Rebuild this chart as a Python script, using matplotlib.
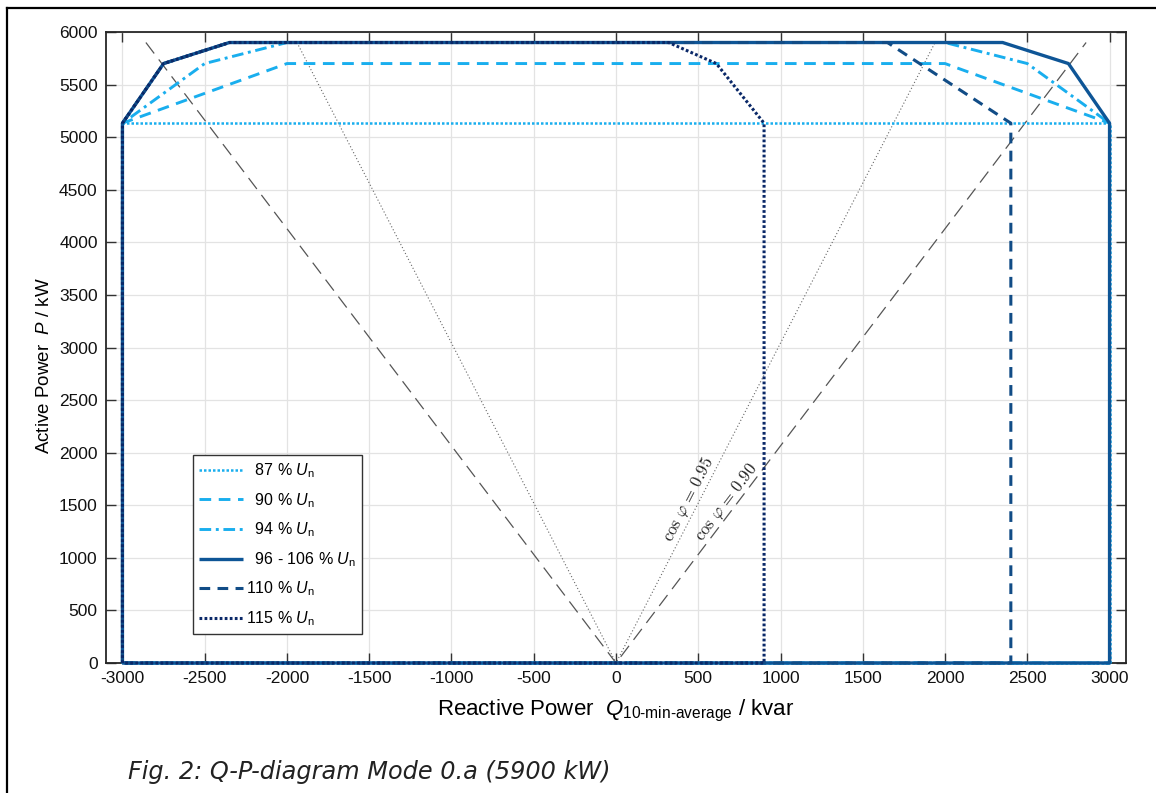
import matplotlib
matplotlib.use('Agg')
import matplotlib.pyplot as plt
from matplotlib.lines import Line2D
import math

plt.rcParams['font.family'] = ['Liberation Sans', 'DejaVu Sans']
plt.rcParams['mathtext.fontset'] = 'custom'
plt.rcParams['mathtext.rm'] = 'Liberation Sans'
plt.rcParams['mathtext.it'] = 'Liberation Sans:italic'
plt.rcParams['mathtext.bf'] = 'Liberation Sans:bold'
plt.rcParams['axes.unicode_minus'] = False

# ---------------- data ----------------
labels = ['  87 % $U_\\mathrm{n}$', '  90 % $U_\\mathrm{n}$', '  94 % $U_\\mathrm{n}$',
          '  96 - 106 % $U_\\mathrm{n}$', '110 % $U_\\mathrm{n}$', '115 % $U_\\mathrm{n}$']

q_87 = [-3000, -3000, 3000, 3000, -3000]
p_87 = [0, 5133, 5133, 0, 0]

q_90 = [-3000, -3000, -2000, 2000, 3000, 3000, -3000]
p_90 = [0, 5133, 5700, 5700, 5133, 0, 0]

q_94 = [-3000, -3000, -2500, -2000, 2000, 2500, 3000, 3000, -3000]
p_94 = [0, 5133, 5700, 5900, 5900, 5700, 5133, 0, 0]

q_96 = [-3000, -3000, -2750, -2350, 2350, 2750, 3000, 3000, -3000]
p_96 = [0, 5133, 5700, 5900, 5900, 5700, 5133, 0, 0]

q_110 = [-3000, -3000, -2750, -2350, 1650, 2400, 2400, -3000]
p_110 = [0, 5133, 5700, 5900, 5900, 5133, 0, 0]

q_115 = [-3000, -3000, -2750, -2350, 320, 610, 900, 900, -3000]
p_115 = [0, 5133, 5700, 5900, 5900, 5700, 5133, 0, 0]

cos_phi = [0.95, 0.90]
p_line_top = 5900

x_ticks = list(range(-3000, 3001, 500))
y_ticks = list(range(0, 6001, 500))

# ---------------- figure ----------------
W, H = 1156, 793
fig = plt.figure(figsize=(W / 100, H / 100), dpi=100)
ax = fig.add_axes([106 / W, 1 - 663 / H, (1126 - 106) / W, (663 - 32) / H])

ax.set_xlim(-3100, 3100)
ax.set_ylim(0, 6000)
ax.set_xticks(x_ticks)
ax.set_yticks(y_ticks)
ax.grid(True, color='#e3e3e3', linewidth=0.9)
ax.set_axisbelow(True)
ax.tick_params(direction='in', top=True, right=True, length=7, width=1.0,
               color='#333333', labelsize=12.5, labelcolor='#111111', pad=6)
for s in ax.spines.values():
    s.set_color('#262626')
    s.set_linewidth(1.3)

# cos phi reference lines
tan95 = math.tan(math.acos(cos_phi[0]))
tan90 = math.tan(math.acos(cos_phi[1]))
ax.plot([-p_line_top * tan95, 0, p_line_top * tan95], [p_line_top, 0, p_line_top],
        color='#666666', lw=0.8, linestyle=(0, (1, 2)), zorder=2)
ax.plot([-p_line_top * tan90, 0, p_line_top * tan90], [p_line_top, 0, p_line_top],
        color='#555555', lw=0.9, linestyle=(0, (11, 6)), zorder=2)

light = '#19AEEE'
c96 = '#0E5596'
c110 = '#114C86'
c115 = '#0A2868'

kw = dict(clip_on=False, solid_capstyle='butt', dash_capstyle='butt')
h87, = ax.plot(q_87, p_87, color=light, lw=1.8, linestyle=(0, (1, 0.8)), zorder=3, **kw)
h90, = ax.plot(q_90, p_90, color=light, lw=2.1, linestyle=(0, (4, 2.6)), zorder=3, **kw)
h94, = ax.plot(q_94, p_94, color=light, lw=2.1, linestyle=(0, (4, 1.6, 1, 1.6)), zorder=3, **kw)
h96, = ax.plot(q_96, p_96, color=c96, lw=2.4, linestyle='-', zorder=4, **kw)
h110, = ax.plot(q_110, p_110, color=c110, lw=2.2, linestyle=(0, (3.5, 2.4)), zorder=5, **kw)
h115, = ax.plot(q_115, p_115, color=c115, lw=2.2, linestyle=(0, (0.9, 0.75)), zorder=6, **kw)

# cos phi labels
ax.text(438, 1560, r'$\cos\,\varphi\, =\, 0.95$', rotation=62.8, rotation_mode='anchor',
        ha='center', va='center', fontsize=12, color='#222222', math_fontfamily='cm',
        zorder=7)
ax.text(672, 1525, r'$\cos\,\varphi\, =\, 0.90$', rotation=52.9, rotation_mode='anchor',
        ha='center', va='center', fontsize=12, color='#222222', math_fontfamily='cm',
        zorder=7)

leg = ax.legend([h87, h90, h94, h96, h110, h115], labels,
                loc='lower left', bbox_to_anchor=((193 - 106) / 1020, (663 - 634) / 631),
                borderaxespad=0, fontsize=11.5, handlelength=2.75, handletextpad=0.2,
                labelspacing=0.68, borderpad=0.38, fancybox=False, framealpha=1,
                edgecolor='#333333')
leg.get_frame().set_linewidth(1.0)
leg.set_zorder(10)

ax.set_xlabel('Reactive Power  $Q_{\\mathrm{10\\text{-}min\\text{-}average}}$ / kvar',
              fontsize=16)
ax.xaxis.set_label_coords(0.5, (663 - 698) / 631)
ax.set_ylabel('Active Power  $P$ / kW', fontsize=13.5)
ax.yaxis.set_label_coords((53 - 106) / 1020, (663 - 366) / 631)

# page frame and caption
fig.add_artist(Line2D([7 / W, 7 / W], [0, 1 - 8 / H], color='black', lw=1.6))
fig.add_artist(Line2D([7 / W, 1], [1 - 8 / H, 1 - 8 / H], color='black', lw=1.6))
fig.text(128 / W, 1 - 772 / H, 'Fig. 2: Q-P-diagram Mode 0.a (5900 kW)',
         fontsize=17.3, style='italic', family='DejaVu Sans', va='center', ha='left',
         color='#222222')

fig.savefig('out.png', dpi=100)
